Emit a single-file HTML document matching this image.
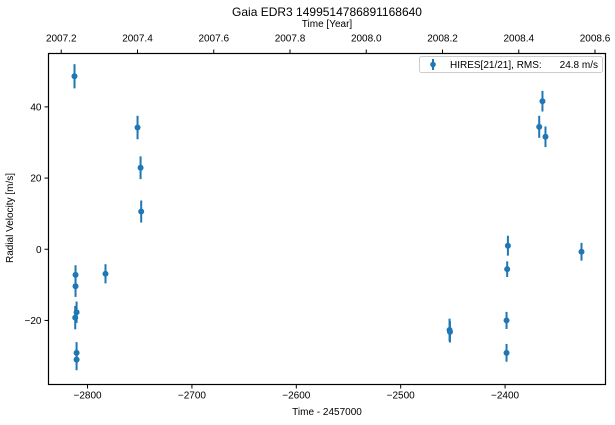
<!DOCTYPE html>
<html><head><meta charset="utf-8"><style>
html,body{margin:0;padding:0;background:#fff;}
svg{display:block;font-family:"Liberation Sans",Arial,sans-serif;}
</style></head><body>
<svg id="chart" width="615" height="425" viewBox="0 0 615 425">
<rect width="615" height="425" fill="#fff"/>
<text x="327" y="16" font-size="12" text-anchor="middle">Gaia EDR3 1499514786891168640</text>
<text x="327" y="27" font-size="10" text-anchor="middle">Time [Year]</text>
<text x="327" y="415" font-size="10" text-anchor="middle">Time - 2457000</text>
<text transform="translate(13,218) rotate(-90)" font-size="10" text-anchor="middle">Radial Velocity [m/s]</text>
<g id="marks"></g>
<g id="axes"></g>
<g>
<rect x="419.5" y="56.5" width="183" height="16" rx="2" fill="#fff" stroke="#ccc" stroke-width="1"/>
<line x1="433" y1="59" x2="433" y2="70" stroke="#1f77b4" stroke-width="2"/>
<circle cx="433" cy="64.5" r="2.8" fill="#1f77b4"/>
<text x="450" y="68" font-size="10">HIRES[21/21], RMS:</text>
<text x="598" y="68" font-size="10" text-anchor="end">24.8 m/s</text>
</g>
</svg>
<script>
const times = [-2812.5,-2752.1,-2749.2,-2748.6,-2811.5,-2811.5,-2782.8,-2810.5,-2811.8,-2810.5,-2810.5,
  -2364.2,-2367.3,-2361.3,-2397.3,-2326.8,-2398.0,-2398.6,-2398.6,-2453.2,-2452.8];
const rvs = [48.6,34.2,22.9,10.6,-7.2,-10.4,-6.9,-17.7,-19.2,-29.1,-31.0,
  41.6,34.4,31.6,1.0,-0.7,-5.6,-20.0,-29.1,-22.7,-23.2];
const errs = [3.4,3.3,3.2,3.1,2.7,3.0,2.7,3.0,3.3,3.0,3.0,
  2.9,3.1,2.9,2.8,2.5,2.2,2.4,2.5,3.2,3.0];
const xTicks = [-2800,-2700,-2600,-2500,-2400];
const yTicks = [-20,0,20,40];
const yearTicks = [2007.2,2007.4,2007.6,2007.8,2008.0,2008.2,2008.4,2008.6];

const L=48.5,R=605.5,T=53.5,B=384.5;
const X0=-2837.4,X1=-2303.8,Y0=-38.0,Y1=55.0;
const xs=v=>L+(v-X0)/(X1-X0)*(R-L);
const ys=v=>B-(v-Y0)/(Y1-Y0)*(B-T);
const yearToT=y=>2451545+(y-2000)*365.25-2457000;
const NS='http://www.w3.org/2000/svg';
function mk(tag,attrs,parent){const e=document.createElementNS(NS,tag);for(const k in attrs)e.setAttribute(k,attrs[k]);parent.appendChild(e);return e;}
const marks=document.getElementById('marks'),axes=document.getElementById('axes');
for(let i=0;i<times.length;i++){
  const x=xs(times[i]);
  const g=mk('g',{},marks);
  
  
  const l=mk('line',{x1:x,x2:x,y1:ys(rvs[i]+errs[i]),y2:ys(rvs[i]-errs[i]),stroke:'#1f77b4','stroke-width':2},g);
  
  
  const c=mk('circle',{cx:x,cy:ys(rvs[i]),r:3,fill:'#1f77b4'},g);
  
  
}
const fr=mk('rect',{x:L,y:T,width:R-L,height:B-T,fill:'none',stroke:'#000','stroke-width':1.2},axes);


xTicks.forEach(v=>{const x=xs(v);
  const t=mk('line',{x1:x,x2:x,y1:B,y2:B+4,stroke:'#000'},axes);
  
  
  const tx=mk('text',{x:x,y:B+14,'font-size':10,'text-anchor':'middle'},axes);
  tx.textContent=String(v).replace('-','\u2212');
  
  
});
yTicks.forEach(v=>{const y=ys(v);
  const t=mk('line',{x1:L-4,x2:L,y1:y,y2:y,stroke:'#000'},axes);
  
  
  const tx=mk('text',{x:L-7,y:y+3.5,'font-size':10,'text-anchor':'end'},axes);
  tx.textContent=String(v).replace('-','\u2212');
  
  
});
yearTicks.forEach(v=>{const x=xs(yearToT(v));
  const t=mk('line',{x1:x,x2:x,y1:T-4,y2:T,stroke:'#000'},axes);
  
  
  const tx=mk('text',{x:x,y:T-12,'font-size':10,'text-anchor':'middle'},axes);
  tx.textContent=v.toFixed(1);
  
  
});
</script>
</body></html>
